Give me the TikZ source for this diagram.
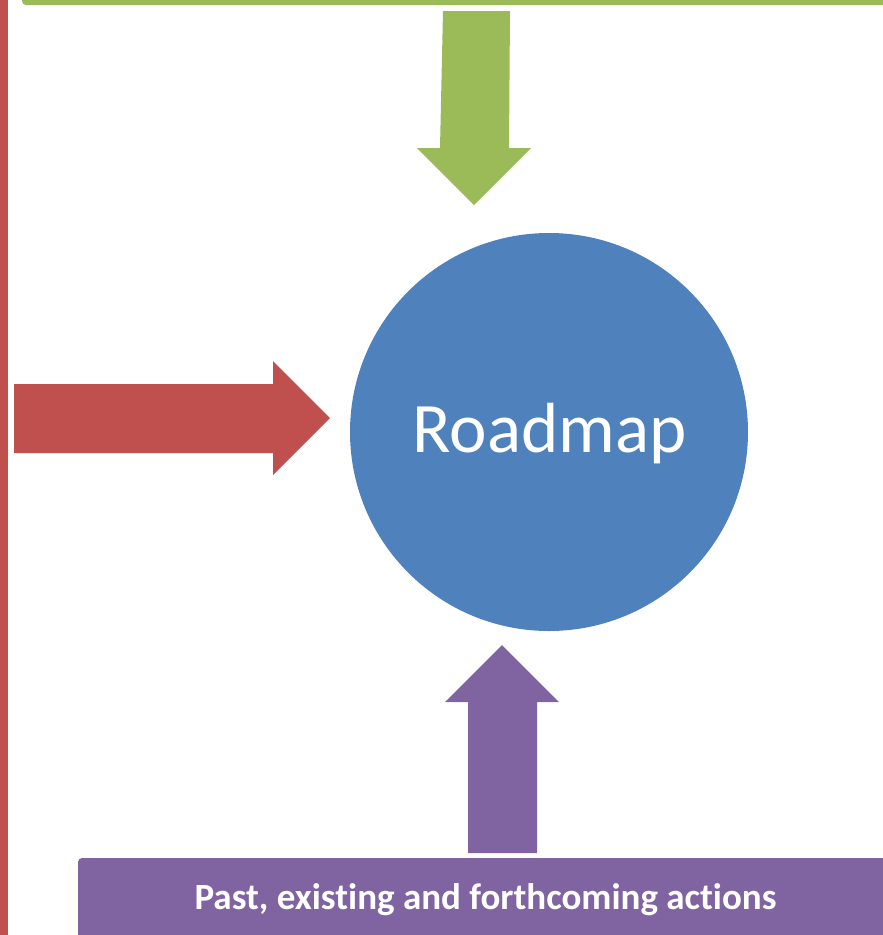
\documentclass[tikz,border=0pt]{standalone}
\usepackage{fontspec}
\setmainfont{Carlito}[Ligatures=NoCommon]
\definecolor{ogreen}{HTML}{9BBB59}
\definecolor{ored}{HTML}{C0504D}
\definecolor{oblue}{HTML}{4F81BD}
\definecolor{opurple}{HTML}{8064A2}
\begin{document}
\begin{tikzpicture}[x=1pt,y=-1pt,
  hub/.style={circle,fill=oblue,draw=none,minimum size=398pt,inner sep=0pt},
  label/.style={anchor=base,text=white}]
\useasboundingbox (0,0) rectangle (883,935);
% frame bars
\fill[ored] (-20,-20) rectangle (8,955);
\fill[ogreen,rounded corners=4pt] (22,-20) -- (22,5) -- (903,5) -- (903,-20) -- cycle;
% bottom box
\fill[opurple,rounded corners=4pt] (78,955) -- (78,858) -- (903,858) -- (903,955) -- cycle;
\node[label,font=\fontsize{37}{44}\bfseries\selectfont] (acts) at (485.5,909) {Past, existing and forthcoming actions};
% central circle
\node[hub] (road) at (549,432) {};
\node[label,font=\fontsize{71}{85}\selectfont] (roadt) at (549.5,452) {Roadmap};
% green arrow down
\fill[ogreen] (443,11) -- (510,11) -- (509,148) -- (531,148) -- (474,205) -- (417,148) -- (440,148) -- cycle;
\coordinate (gtip) at (474,205);
% red arrow right
\fill[ored] (14,384) -- (273,384) -- (273,361) -- (330,418) -- (273,475) -- (273,453) -- (14,453) -- cycle;
\coordinate (rtip) at (330,418);
% purple arrow up
\fill[opurple] (468,853) -- (537,853) -- (537,702) -- (559,702) -- (502,645) -- (445,702) -- (468,702) -- cycle;
\coordinate (ptip) at (502,645);
\end{tikzpicture}
\end{document}
